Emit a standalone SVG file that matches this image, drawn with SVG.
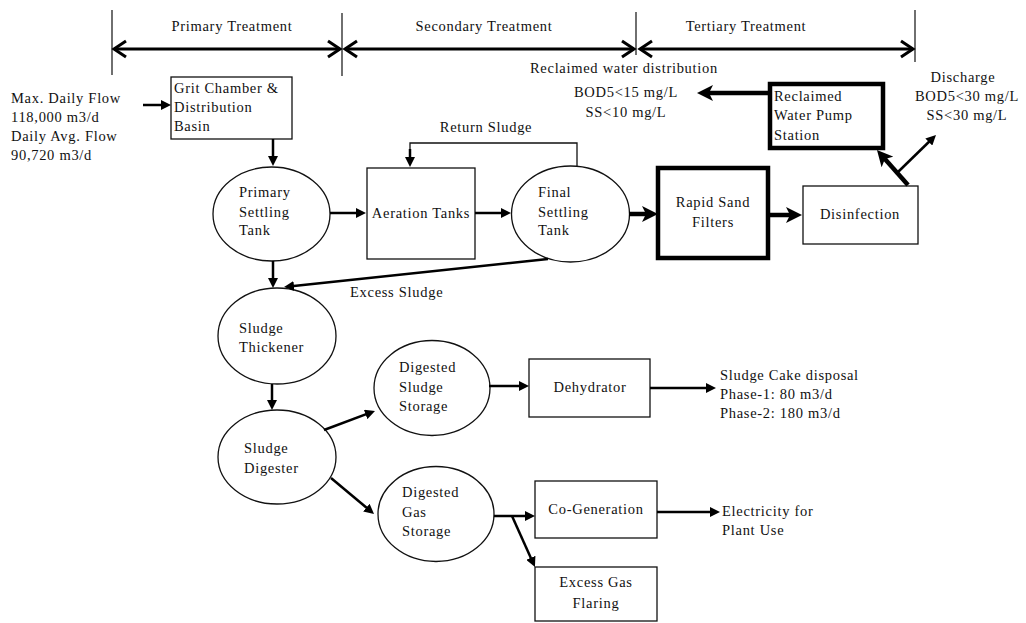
<svg xmlns="http://www.w3.org/2000/svg" width="1026" height="623" viewBox="0 0 1026 623">
<style>
text{font-family:"Liberation Serif","Times New Roman",serif;font-size:14.5px;letter-spacing:0.7px;fill:#111}
.c{text-anchor:middle}
.box{fill:#fff;stroke:#111;stroke-width:1.3}
.thick{fill:#fff;stroke:#000;stroke-width:4.5}
.ell{fill:#fff;stroke:#111;stroke-width:1.3}
.a{stroke:#000;stroke-width:2.5;fill:none;marker-end:url(#tri)}
.ta{stroke:#000;stroke-width:4.5;fill:none;marker-end:url(#chev)}
.h{stroke:#000;stroke-width:3;fill:none;marker-start:url(#open);marker-end:url(#open)}
.v{stroke:#222;stroke-width:1.3}
</style>
<defs>
<marker id="tri" markerUnits="userSpaceOnUse" viewBox="0 0 10 10" refX="5" refY="5" markerWidth="10" markerHeight="10" orient="auto"><path d="M0,0 L10,5 L0,10 z" fill="#000"/></marker>
<marker id="chev" markerUnits="userSpaceOnUse" viewBox="0 0 16 16" refX="6" refY="8" markerWidth="16" markerHeight="16" orient="auto"><path d="M0,0 L16,8 L0,16 L4,8 z" fill="#000"/></marker>
<marker id="open" markerUnits="userSpaceOnUse" refX="0" refY="0" markerWidth="20" markerHeight="20" orient="auto-start-reverse" overflow="visible"><path d="M-12,-8 L0,0 L-12,8" fill="none" stroke="#000" stroke-width="3" stroke-linejoin="miter"/></marker>
</defs>
<rect width="1026" height="623" fill="#fff"/>

<g id="header">
<line class="v" x1="112" y1="10" x2="112" y2="75"/>
<line class="v" x1="342" y1="13" x2="342" y2="76"/>
<line class="v" x1="636" y1="12" x2="636" y2="55"/>
<line class="v" x1="915" y1="10" x2="915" y2="62"/>
<line class="h" x1="114" y1="49" x2="340" y2="49"/>
<line class="h" x1="345" y1="49" x2="634" y2="49"/>
<line class="h" x1="640" y1="49" x2="913" y2="49"/>
<text class="c" x="232" y="31">Primary Treatment</text>
<text class="c" x="484" y="31">Secondary Treatment</text>
<text class="c" x="746" y="31">Tertiary Treatment</text>
</g>

<g id="inflow">
<text x="11" y="103">Max. Daily Flow</text>
<text x="11" y="122">118,000 m3/d</text>
<text x="11" y="141">Daily Avg. Flow</text>
<text x="11" y="160">90,720 m3/d</text>
</g>

<g id="grit">
<rect class="box" x="171" y="77" width="121" height="62"/>
<text x="174" y="93">Grit Chamber &amp;</text>
<text x="174" y="112">Distribution</text>
<text x="174" y="131">Basin</text>
</g>

<g id="primary-settling">
<ellipse class="ell" cx="271.5" cy="214" rx="58.5" ry="47"/>
<text x="239" y="197">Primary</text>
<text x="239" y="217">Settling</text>
<text x="239" y="235">Tank</text>
</g>

<g id="aeration">
<rect class="box" x="367" y="168" width="108" height="91"/>
<text class="c" x="421" y="218">Aeration Tanks</text>
</g>

<g id="final-settling">
<ellipse class="ell" cx="570.5" cy="214" rx="59" ry="48"/>
<text x="538" y="197">Final</text>
<text x="538" y="217">Settling</text>
<text x="538" y="235">Tank</text>
</g>

<g id="rapid-sand">
<rect class="thick" x="658" y="168" width="110" height="90"/>
<text class="c" x="713" y="207">Rapid Sand</text>
<text class="c" x="713" y="227">Filters</text>
</g>

<g id="disinfection">
<rect class="box" x="803" y="186" width="115" height="58"/>
<text class="c" x="860" y="219">Disinfection</text>
</g>

<g id="pump-station">
<rect class="thick" x="770" y="84" width="113" height="64" stroke-width="4"/>
<text x="774" y="101">Reclaimed</text>
<text x="774" y="120">Water Pump</text>
<text x="774" y="140">Station</text>
</g>

<g id="reclaimed-label">
<text x="530" y="73">Reclaimed water distribution</text>
<text class="c" x="626" y="97">BOD5&lt;15 mg/L</text>
<text class="c" x="626" y="117">SS&lt;10 mg/L</text>
</g>

<g id="discharge-label">
<text class="c" x="963" y="82">Discharge</text>
<text class="c" x="967" y="101">BOD5&lt;30 mg/L</text>
<text class="c" x="967" y="120">SS&lt;30 mg/L</text>
</g>

<g id="thickener">
<ellipse class="ell" cx="277" cy="336" rx="59" ry="48"/>
<text x="239" y="333">Sludge</text>
<text x="239" y="352">Thickener</text>
</g>

<g id="digester">
<ellipse class="ell" cx="277" cy="457" rx="59" ry="47"/>
<text x="244" y="453">Sludge</text>
<text x="244" y="473">Digester</text>
</g>

<g id="digested-sludge-storage">
<ellipse class="ell" cx="432" cy="388" rx="58" ry="47.5"/>
<text x="399" y="372">Digested</text>
<text x="399" y="392">Sludge</text>
<text x="399" y="411">Storage</text>
</g>

<g id="dehydrator">
<rect class="box" x="529" y="359" width="121" height="58"/>
<text class="c" x="590" y="392">Dehydrator</text>
</g>

<g id="sludge-cake">
<text x="720" y="380">Sludge Cake disposal</text>
<text x="720" y="399">Phase-1: 80 m3/d</text>
<text x="720" y="418">Phase-2: 180 m3/d</text>
</g>

<g id="digested-gas-storage">
<ellipse class="ell" cx="436" cy="514" rx="58" ry="47.5"/>
<text x="402" y="497">Digested</text>
<text x="402" y="517">Gas</text>
<text x="402" y="536">Storage</text>
</g>

<g id="co-generation">
<rect class="box" x="535" y="481" width="122" height="57"/>
<text class="c" x="596" y="514">Co-Generation</text>
</g>

<g id="electricity">
<text x="722" y="516">Electricity for</text>
<text x="722" y="535">Plant Use</text>
</g>

<g id="flaring">
<rect class="box" x="535" y="567" width="122" height="54"/>
<text class="c" x="596" y="587">Excess Gas</text>
<text class="c" x="596" y="608">Flaring</text>
</g>

<g id="excess-sludge-label">
<text x="350" y="297">Excess Sludge</text>
</g>
<g id="return-sludge-label">
<text class="c" x="486" y="132">Return Sludge</text>
</g>

<g id="connectors">
<line class="a" x1="143" y1="105" x2="166" y2="105"/>
<line class="a" x1="273" y1="139" x2="273" y2="161"/>
<line class="a" x1="330" y1="213" x2="361" y2="213"/>
<line class="a" x1="475" y1="213" x2="506" y2="213"/>
<polyline points="577,166 577,143 410,143 410,150" fill="none" stroke="#111" stroke-width="1.3"/>
<line class="a" x1="410" y1="149" x2="410" y2="162" stroke-width="2"/>
<line class="a" x1="273" y1="261" x2="273" y2="283"/>
<line class="a" x1="548" y1="259" x2="289" y2="286.5" stroke-width="2"/>
<line class="a" x1="272" y1="384" x2="272" y2="405"/>
<line class="a" x1="324" y1="430" x2="370.3" y2="412.7"/>
<line class="a" x1="489" y1="386" x2="524" y2="386"/>
<line class="a" x1="650" y1="388" x2="711" y2="388"/>
<line class="a" x1="331" y1="478" x2="370.2" y2="510.8"/>
<line class="a" x1="494" y1="516" x2="530" y2="516"/>
<line class="a" x1="512" y1="516" x2="532.9" y2="562.4"/>
<line class="a" x1="657" y1="512" x2="715" y2="512"/>
<line class="a" x1="898" y1="172" x2="932.4" y2="138.5" stroke-width="2"/>
<line class="ta" x1="629" y1="214" x2="648" y2="214"/>
<line class="ta" x1="770" y1="215" x2="792" y2="215"/>
<line class="ta" x1="908" y1="185" x2="883.6" y2="157.5"/>
<line class="ta" x1="770" y1="93" x2="707" y2="93"/>
</g>
</svg>
